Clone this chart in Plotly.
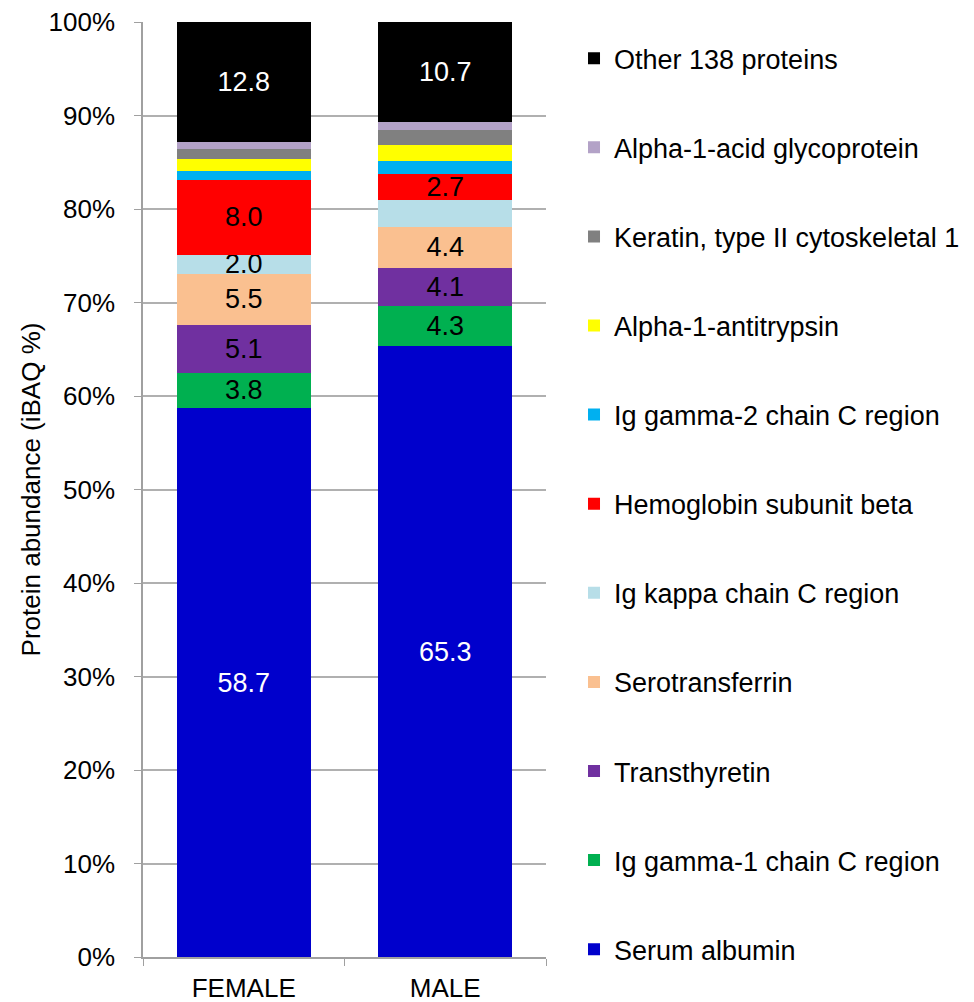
import plotly.graph_objects as go

groups = ['FEMALE', 'MALE']

proteins = [
    'Serum albumin',
    'Ig gamma-1 chain C region',
    'Transthyretin',
    'Serotransferrin',
    'Ig kappa chain C region',
    'Hemoglobin subunit beta',
    'Ig gamma-2 chain C region',
    'Alpha-1-antitrypsin',
    'Keratin, type II cytoskeletal 1',
    'Alpha-1-acid glycoprotein',
    'Other 138 proteins',
]

female = [58.7, 3.8, 5.1, 5.5, 2.0, 8.0, 1.0, 1.3, 1.0, 0.8, 12.8]
male = [65.3, 4.3, 4.1, 4.4, 2.9, 2.7, 1.4, 1.7, 1.6, 0.9, 10.7]

# which segments carry a value label (female, male)
labelled = [
    (True, True), (True, True), (True, True), (True, True), (True, False),
    (True, True), (False, False), (False, False), (False, False),
    (False, False), (True, True),
]

colors = ['#0000CC', '#00B050', '#7030A0', '#FAC090', '#B7DEE8', '#FF0000',
          '#00B0F0', '#FFFF00', '#808080', '#B3A2C7', '#000000']
text_colors = ['white'] + ['black'] * 9 + ['white']

FONT = 'Liberation Sans, Arial, sans-serif'

fig = go.Figure()
for i, name in enumerate(proteins):
    vals = [female[i], male[i]]
    txt = [f'{v:.1f}' if show else '' for v, show in zip(vals, labelled[i])]
    fig.add_trace(go.Bar(
        x=groups,
        y=vals,
        name=name,
        legendgroup=name,
        legendrank=100 - i,  # top of the stack first in the legend
        marker=dict(color=colors[i], line=dict(width=0)),
        text=txt,
        textposition='inside',
        insidetextanchor='middle',
        textangle=0,
        constraintext='none',
        textfont=dict(family=FONT, size=27, color=text_colors[i]),
        hoverinfo='name+y',
    ))

# the page body adds an 8px offset, margins are set against it
fig.update_layout(
    width=974,
    height=1002,
    barmode='stack',
    bargap=0.333,
    plot_bgcolor='white',
    paper_bgcolor='white',
    margin=dict(l=135, r=436, t=14, b=53, autoexpand=False),
    font=dict(family=FONT, size=26, color='black'),
    showlegend=True,
    legend=dict(
        traceorder='grouped',
        tracegroupgap=51,
        x=1.0695,
        xanchor='left',
        y=0.987,
        yanchor='top',
        maxheight=1200,
        font=dict(family=FONT, size=27, color='black'),
        bgcolor='rgba(0,0,0,0)',
    ),
)

fig.update_yaxes(
    range=[0, 100],
    tickvals=list(range(0, 101, 10)),
    ticktext=[f'{v}%' for v in range(0, 101, 10)],
    tickfont=dict(family=FONT, size=26),
    ticklabeloverflow='allow',
    showgrid=True,
    gridcolor='#B0B0B0',
    gridwidth=1.5,
    showline=True,
    linecolor='#A0A0A0',
    linewidth=1.5,
    ticks='outside',
    ticklen=7,
    tickcolor='#A0A0A0',
    ticklabelstandoff=14,
    zeroline=False,
    title=dict(text='Protein abundance (iBAQ %)', font=dict(family=FONT, size=26), standoff=0),
)

fig.update_xaxes(
    showline=True,
    linecolor='#A0A0A0',
    linewidth=1.5,
    ticks='outside',
    tickson='boundaries',
    ticklen=7,
    tickcolor='#A0A0A0',
    ticklabelstandoff=7,
    ticklabeloverflow='allow',
    tickfont=dict(family=FONT, size=26),
)

fig.write_html('out.html')
